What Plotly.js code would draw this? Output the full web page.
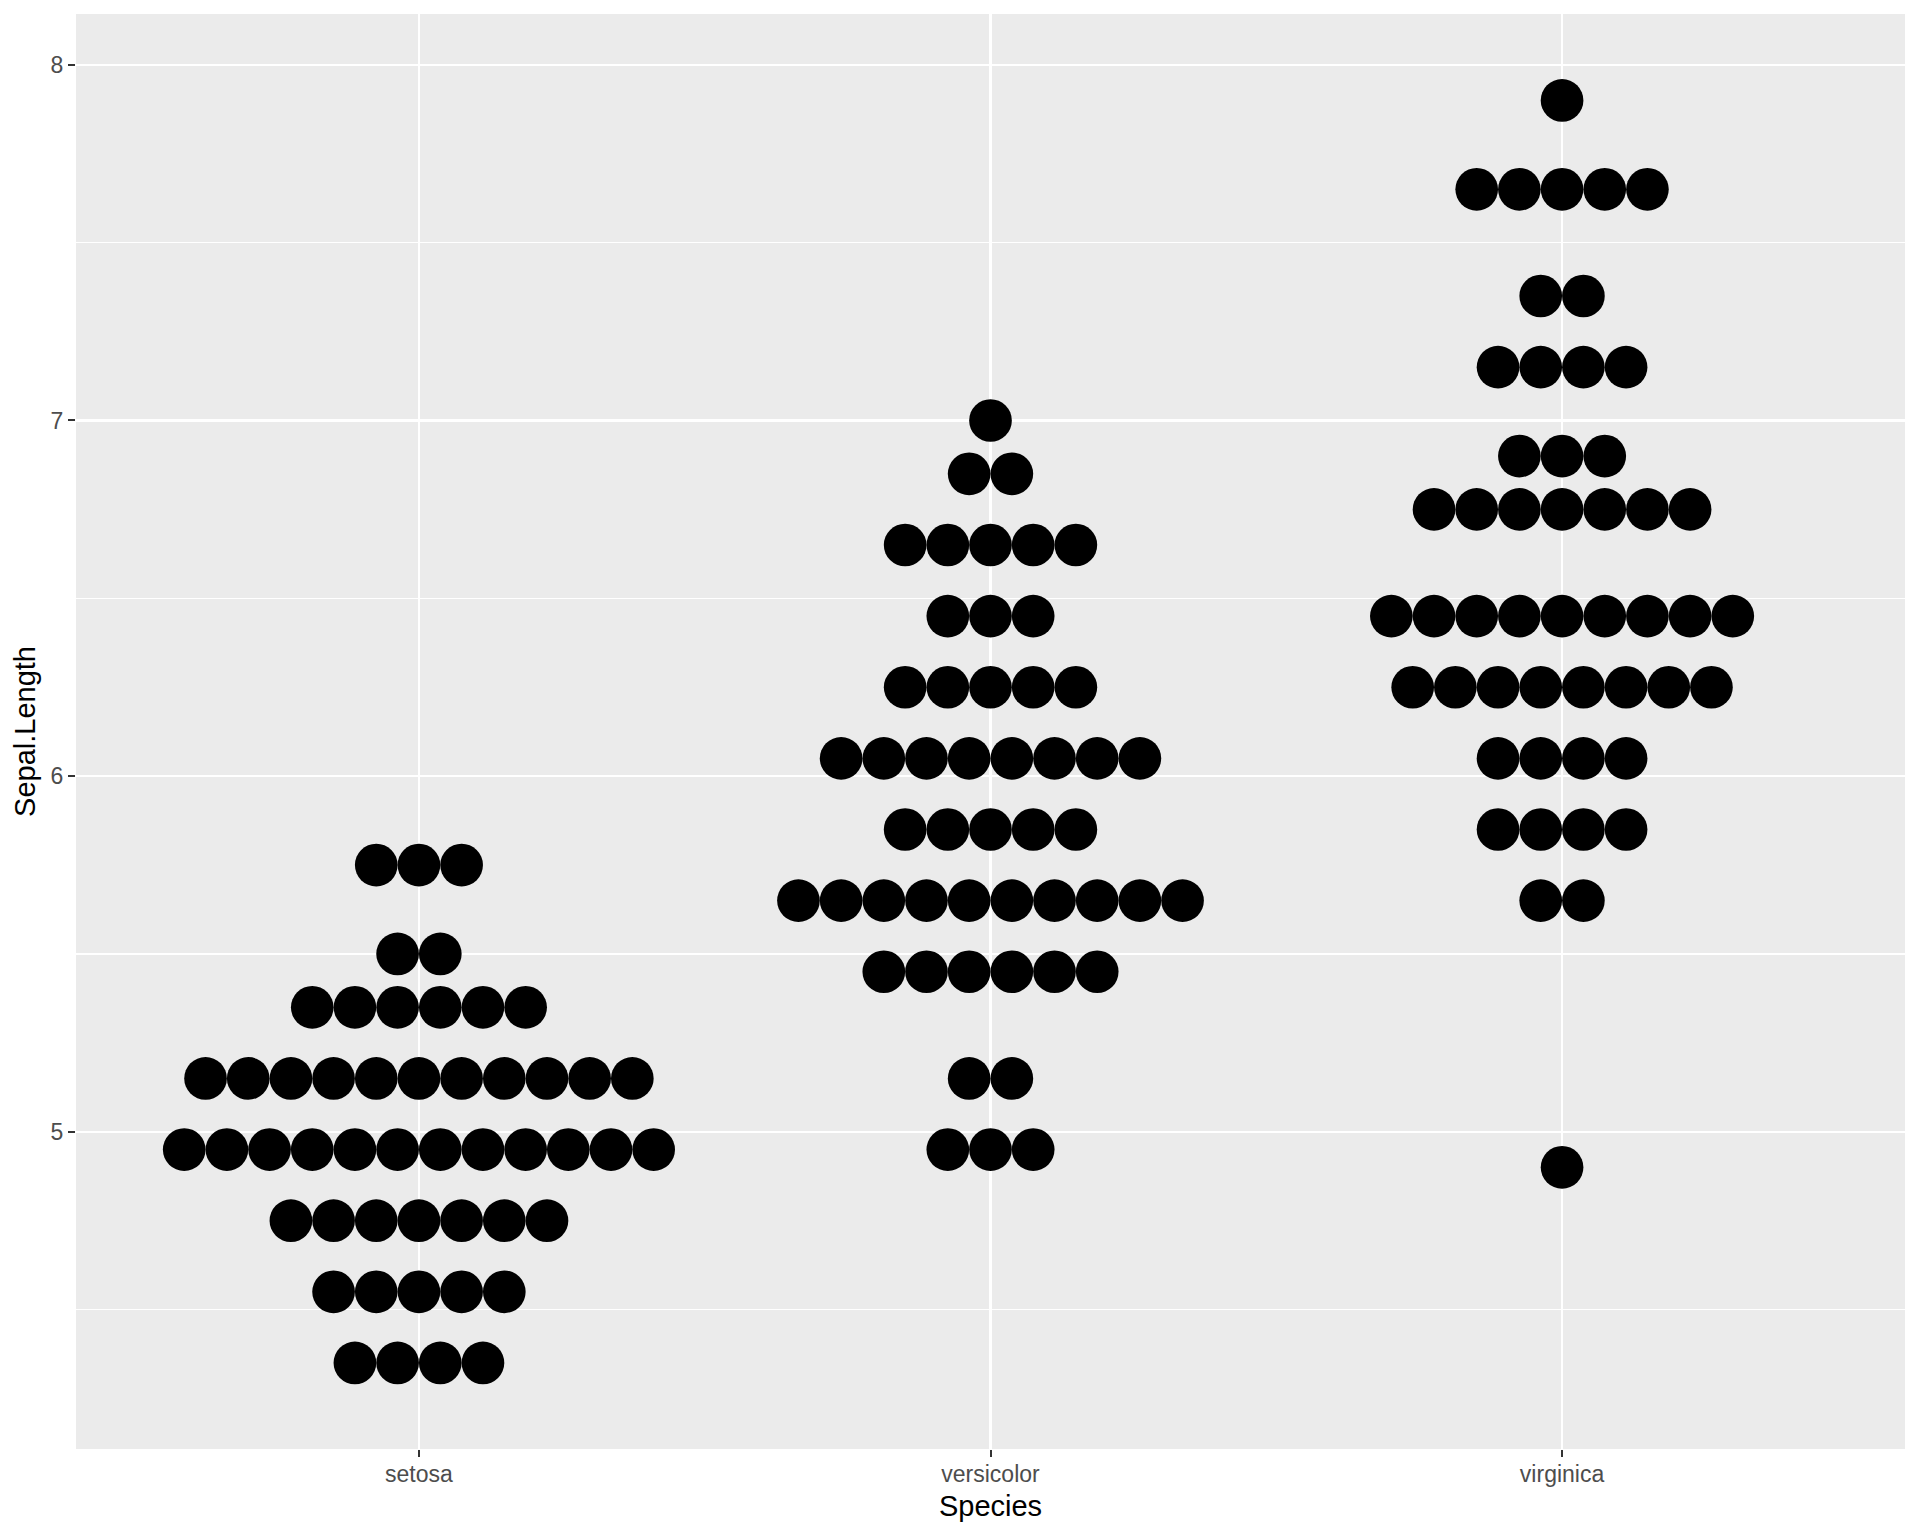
<!DOCTYPE html>
<html>
<head>
<meta charset="utf-8">
<script src="https://cdn.plot.ly/plotly-3.0.1.min.js"></script>
<style>html,body{margin:0;padding:0;background:#fff;}#chart{width:1920px;height:1536px;}</style>
</head>
<body>
<div id="chart"></div>
<script>
// Species categories
const species = ['setosa', 'versicolor', 'virginica'];
// Bin centres (Sepal.Length) and dot counts per bin, per species
const setosaBins = [4.35, 4.55, 4.75, 4.95, 5.15, 5.35, 5.5, 5.75];
const setosaCounts = [4, 5, 7, 12, 11, 6, 2, 3];
const versicolorBins = [4.95, 5.15, 5.45, 5.65, 5.85, 6.05, 6.25, 6.45, 6.65, 6.85, 7.0];
const versicolorCounts = [3, 2, 6, 10, 5, 8, 5, 3, 5, 2, 1];
const virginicaBins = [4.9, 5.65, 5.85, 6.05, 6.25, 6.45, 6.75, 6.9, 7.15, 7.35, 7.65, 7.9];
const virginicaCounts = [1, 2, 4, 4, 8, 9, 7, 3, 4, 2, 5, 1];
const binwidth = 0.12;
const yTicks = [5, 6, 7, 8];

const W = 1920, H = 1536;
const margin = {l: 76, r: 15, t: 14, b: 87};
const yRange = [4.108, 8.143];
const xRange = [0.4, 3.6];
const plotW = W - margin.l - margin.r;
const plotH = H - margin.t - margin.b;
const pxPerY = plotH / (yRange[1] - yRange[0]);
const pxPerX = plotW / (xRange[1] - xRange[0]);
const dotPx = binwidth * pxPerY;
const dx = dotPx / pxPerX;

const groups = [
  [setosaBins, setosaCounts],
  [versicolorBins, versicolorCounts],
  [virginicaBins, virginicaCounts]
];
const xs = [], ys = [];
groups.forEach((g, gi) => {
  const bins = g[0], counts = g[1];
  bins.forEach((b, i) => {
    const n = counts[i];
    for (let j = 0; j < n; j++) {
      xs.push(gi + 1 + (j - (n - 1) / 2) * dx);
      ys.push(b);
    }
  });
});

const trace = {
  type: 'scatter', mode: 'markers', x: xs, y: ys,
  marker: {color: '#000000', size: dotPx, line: {width: 0}},
  hoverinfo: 'skip', showlegend: false
};

const font = {family: '"Liberation Sans", Arial, sans-serif'};
const layout = {
  width: W, height: H,
  margin: margin,
  paper_bgcolor: '#ffffff',
  plot_bgcolor: '#EBEBEB',
  showlegend: false,
  font: font,
  xaxis: {
    range: xRange, tickvals: [1, 2, 3], ticktext: species,
    showgrid: true, gridcolor: '#ffffff', gridwidth: 2.2,
    zeroline: false, showline: false,
    ticks: 'outside', ticklen: 7, tickwidth: 2, tickcolor: '#333333',
    ticklabelstandoff: -3,
    tickfont: {family: font.family, size: 23, color: '#4D4D4D'},
    title: {text: 'Species', font: {family: font.family, size: 29, color: '#000000'}, standoff: 10},
    automargin: false, fixedrange: true
  },
  yaxis: {
    range: yRange, tickvals: yTicks, ticktext: yTicks.map(String),
    showgrid: true, gridcolor: '#ffffff', gridwidth: 2.2,
    minor: {tick0: 4.5, dtick: 1, showgrid: true, gridcolor: '#ffffff', gridwidth: 1.1, ticks: ''},
    zeroline: false, showline: false,
    ticks: 'outside', ticklen: 7, tickwidth: 2, tickcolor: '#333333',
    tickfont: {family: font.family, size: 23, color: '#4D4D4D'},
    title: {text: 'Sepal.Length', font: {family: font.family, size: 29, color: '#000000'}, standoff: 6},
    automargin: false, fixedrange: true
  }
};

Plotly.newPlot('chart', [trace], layout, {displayModeBar: false, staticPlot: true});
</script>
</body>
</html>
